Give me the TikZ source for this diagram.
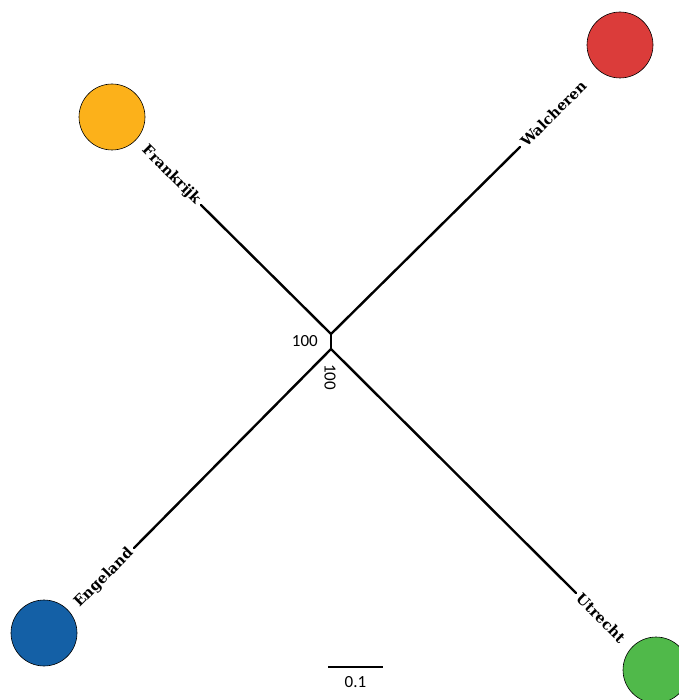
\documentclass[tikz,border=0pt]{standalone}
\usepackage{fontspec}
\setmainfont{DejaVu Serif}
\newfontfamily\numfont{Carlito}
\usetikzlibrary{calc,positioning}
\definecolor{tipOrange}{RGB}{252,177,26}
\definecolor{tipRed}{RGB}{219,60,58}
\definecolor{tipBlue}{RGB}{20,96,166}
\definecolor{tipGreen}{RGB}{80,185,74}
\tikzset{
    branch/.style={line width=2.4pt, line cap=round},
    tip/.style={circle, draw=black, line width=0.6pt, minimum size=66pt, inner sep=0pt},
    taxon/.style={font=\bfseries\fontsize{14.5}{14.5}\selectfont, inner xsep=4pt, inner ysep=0pt},
    support/.style={font=\numfont\fontsize{17}{17}\selectfont, inner sep=0pt}
}
\begin{document}
\begin{tikzpicture}[x=1pt, y=-1pt]
        \useasboundingbox (0,0) rectangle (678,700);
        % internal nodes
        \coordinate (NODE_TOP) at (331,334);
        \coordinate (NODE_BOT) at (331,349);
        % tips
        \node[tip, fill=tipOrange] (TIP_F) at (112,117) {};
        \node[tip, fill=tipRed] (TIP_W) at (620,45) {};
        \node[tip, fill=tipBlue] (TIP_E) at (44,633) {};
        \node[tip, fill=tipGreen] (TIP_U) at (656,670) {};
        % taxon labels
        \node[taxon, rotate=-45, anchor=east] (LAB_F) at (201,205) {Frankrijk};
        \node[taxon, rotate=45, anchor=west] (LAB_W) at (520,147) {Walcheren};
        \node[taxon, rotate=45, anchor=east] (LAB_E) at (134,548) {Engeland};
        \node[taxon, rotate=-45, anchor=west] (LAB_U) at (576,593) {Utrecht};
        % branches
        \draw[branch, line cap=butt] (NODE_TOP) -- (NODE_BOT);
        \draw[branch] (NODE_TOP) -- (LAB_F.east);
        \draw[branch] (NODE_TOP) -- (LAB_W.west);
        \draw[branch] (NODE_BOT) -- (LAB_E.east);
        \draw[branch] (NODE_BOT) -- (LAB_U.west);
        % bootstrap values
        \node[support, anchor=east] (SUP_TOP) at (318,341) {100};
        \node[support, rotate=-90, anchor=west] (SUP_BOT) at (330,364) {100};
        % scale bar
        \coordinate (BAR_L) at (328,667);
        \coordinate (BAR_R) at (383,667);
        \draw[branch, line cap=butt] (BAR_L) -- (BAR_R);
        \node[support, anchor=north] (BAR_LAB) at ($(BAR_L)!0.5!(BAR_R)+(0,9)$) {0.1};
\end{tikzpicture}
\end{document}
